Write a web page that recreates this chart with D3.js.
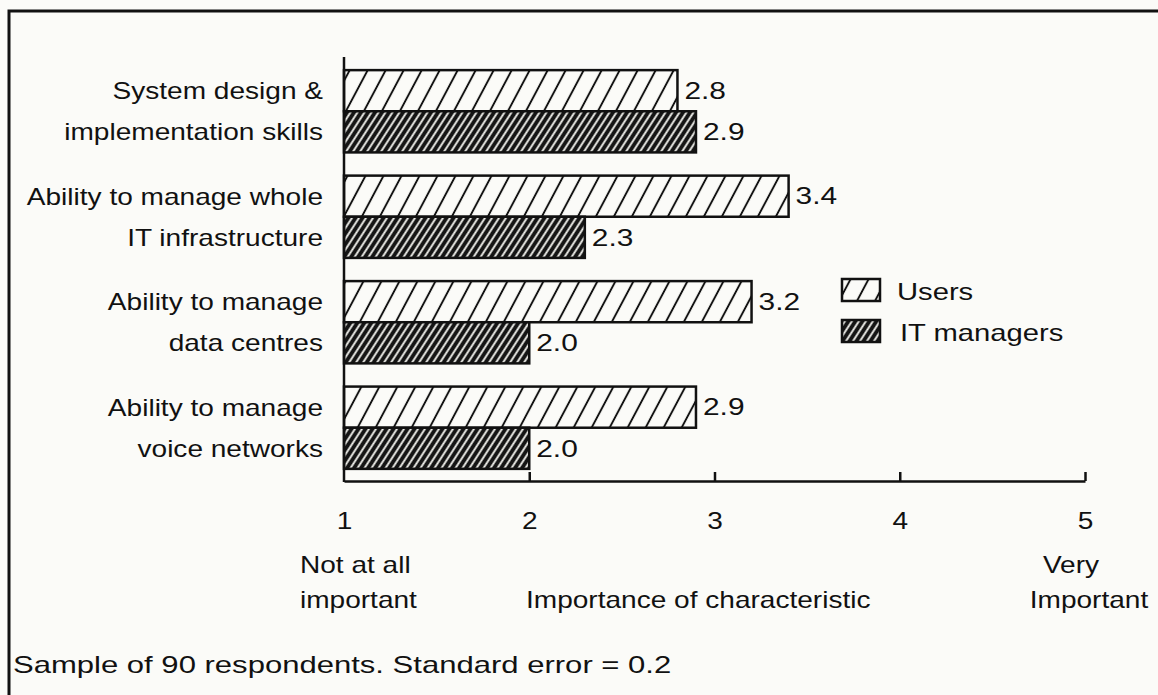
<!DOCTYPE html>
<html>
<head>
<meta charset="utf-8">
<script src="https://cdn.jsdelivr.net/npm/d3@7"></script>
<style>
  html, body { margin: 0; padding: 0; background: #fbfbf8; }
  svg { display: block; }
  text { font-family: "Liberation Sans", Arial, Helvetica, sans-serif; fill: #111; }
</style>
</head>
<body>
<svg id="chart" width="1158" height="695"></svg>
<script>
// Survey categories (two-line labels)
const categories = [
  ["System design &", "implementation skills"],
  ["Ability to manage whole", "IT infrastructure"],
  ["Ability to manage", "data centres"],
  ["Ability to manage", "voice networks"]
];
const seriesNames = ["Users", "IT managers"];
const usersValues = [2.8, 3.4, 3.2, 2.9];
const itManagerValues = [2.9, 2.3, 2.0, 2.0];
const tickValues = [1, 2, 3, 4, 5];
const footnote = "Sample of 90 respondents. Standard error = 0.2";

const svg = d3.select("#chart");
const W = 1158, H = 695;
const FS = 23;      // type size
const SX = 1.22;    // horizontal stretch of the lettering

// Text placed at (x, y) and stretched horizontally
function label(x, y, str, anchor = "start", sx = SX, dy = "0") {
  return svg.append("g")
    .attr("transform", `translate(${x},${y}) scale(${sx},1)`)
    .append("text")
    .attr("text-anchor", anchor)
    .attr("font-size", FS)
    .attr("dy", dy)
    .text(str);
}

// Patterns: open hatch for users, dense dark hatch for IT managers
const defs = svg.append("defs");
const pUsers = defs.append("pattern")
  .attr("id", "hatchUsers").attr("patternUnits", "userSpaceOnUse")
  .attr("width", 18).attr("height", 200)
  .attr("patternTransform", "skewX(-28)");
pUsers.append("rect").attr("width", 18).attr("height", 200).attr("fill", "#fbfbf8");
pUsers.append("line").attr("x1", 9).attr("x2", 9).attr("y1", 0).attr("y2", 200)
  .attr("stroke", "#111").attr("stroke-width", 2.2);

const pIT = defs.append("pattern")
  .attr("id", "hatchIT").attr("patternUnits", "userSpaceOnUse")
  .attr("width", 7).attr("height", 200)
  .attr("patternTransform", "skewX(-33)");
pIT.append("rect").attr("width", 7).attr("height", 200).attr("fill", "#151515");
pIT.append("line").attr("x1", 3.5).attr("x2", 3.5).attr("y1", 0).attr("y2", 200)
  .attr("stroke", "#f4f4f0").attr("stroke-width", 2.2);

// Outer frame (top and left edges)
svg.append("path")
  .attr("d", `M9,${H} L9,11 L${W},11`)
  .attr("fill", "none").attr("stroke", "#111").attr("stroke-width", 3);

// Scales
const x = d3.scaleLinear().domain([1, 5]).range([344, 1085]);
const y = d3.scaleBand().domain(d3.range(categories.length))
  .range([58, 481]).paddingInner(0.22).paddingOuter(0.115);
const sub = d3.scaleBand().domain(seriesNames).range([0, y.bandwidth()]);

const axisY = 481;

// Bars and value labels
const series = [
  { name: seriesNames[0], values: usersValues, fill: "url(#hatchUsers)" },
  { name: seriesNames[1], values: itManagerValues, fill: "url(#hatchIT)" }
];

series.forEach(s => {
  svg.append("g").selectAll("rect").data(s.values).join("rect")
    .attr("x", x(1))
    .attr("y", (d, i) => y(i) + sub(s.name))
    .attr("width", d => x(d) - x(1))
    .attr("height", sub.bandwidth())
    .attr("fill", s.fill)
    .attr("stroke", "#111").attr("stroke-width", 2.5);
  s.values.forEach((d, i) => {
    label(x(d) + 7, y(i) + sub(s.name) + sub.bandwidth() / 2, d.toFixed(1), "start", 1.3, "0.36em");
  });
});

// Category labels
categories.forEach((lines, i) => {
  const cy = y(i) + y.bandwidth() / 2;
  lines.forEach((ln, j) => {
    label(323, cy + (j - 0.5) * 41, ln, "end", SX, "0.36em");
  });
});

// Value axis along the bottom
const axis = d3.axisBottom(x).tickValues(tickValues).tickSize(0).tickPadding(32)
  .tickFormat(d3.format("d"));
const ax = svg.append("g").attr("transform", `translate(0,${axisY})`).call(axis);
ax.select(".domain").attr("stroke", "#111").attr("stroke-width", 2.5);
ax.selectAll(".tick text")
  .attr("font-size", FS).attr("fill", "#111")
  .attr("font-family", "Liberation Sans, Arial, sans-serif")
  .attr("transform", `scale(${SX},1)`)
  .attr("x", 0);
ax.selectAll(".tick line").remove();
ax.selectAll(".tick").filter(d => d > 1).append("line")
  .attr("y1", 0).attr("y2", -9).attr("stroke", "#111").attr("stroke-width", 2.5);

// Category axis line
svg.append("line")
  .attr("x1", x(1)).attr("x2", x(1)).attr("y1", 57).attr("y2", axisY + 1)
  .attr("stroke", "#111").attr("stroke-width", 2.5);

// Scale annotations
label(300, 573, "Not at all");
label(300, 608, "important");
label(526, 608, "Importance of characteristic");
label(1071, 573, "Very", "middle");
label(1089, 608, "Important", "middle");

// Legend
const legend = [
  { name: seriesNames[0], fill: "url(#hatchUsers)", y: 279, ty: 292, tx: 897 },
  { name: seriesNames[1], fill: "url(#hatchIT)", y: 320, ty: 333, tx: 900 }
];
legend.forEach(l => {
  svg.append("rect").attr("x", 842).attr("y", l.y).attr("width", 38).attr("height", 22)
    .attr("fill", l.fill).attr("stroke", "#111").attr("stroke-width", 2.5);
  label(l.tx, l.ty, l.name, "start", 1.27, "0.36em");
});

// Footnote
label(13, 673, footnote, "start", 1.35);
</script>
</body>
</html>
